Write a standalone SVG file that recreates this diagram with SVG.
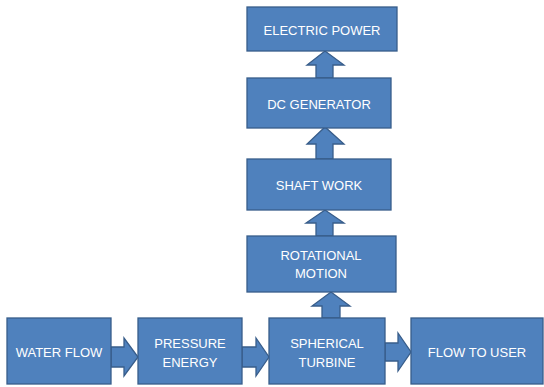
<svg xmlns="http://www.w3.org/2000/svg" width="544" height="387" viewBox="0 0 544 387">
<style>
.box{fill:#4F81BD;stroke:#385D8A;stroke-width:1.3}
.arr{fill:#4F81BD;stroke:#385D8A;stroke-width:1.3;stroke-linejoin:miter}
text{font-family:"Liberation Sans",Arial,sans-serif;font-size:13px;fill:#FFFFFF;text-anchor:middle}
</style>
<rect width="544" height="387" fill="#FFFFFF"/>
<g id="connectors">
<polygon class="arr" points="111,347 124,347 124,338 138,357 124,376 124,367 111,367"/>
<polygon class="arr" points="242,347 256,347 256,338 269,357 256,376 256,367 242,367"/>
<polygon class="arr" points="385,343 398,343 398,333 411,352 398,371 398,361 385,361"/>
<polygon class="arr" points="322,318 322,306 312,306 331,292 350,306 340,306 340,318"/>
<polygon class="arr" points="316,236 316,223 306,223 325,210 344,223 333,223 333,236"/>
<polygon class="arr" points="316,159 316,144 307,144 325,127 344,144 333,144 333,159"/>
<polygon class="arr" points="316,78 316,65 307,65 325,51 344,65 333,65 333,78"/>
</g>
<g id="water-flow">
<rect class="box" x="7" y="318" width="104" height="66"/>
<text x="59" y="357">WATER FLOW</text>
</g>
<g id="pressure-energy">
<rect class="box" x="138" y="318" width="104" height="66"/>
<text x="190" y="348">PRESSURE</text>
<text x="190" y="367">ENERGY</text>
</g>
<g id="spherical-turbine">
<rect class="box" x="269" y="318" width="116" height="66"/>
<text x="327" y="348">SPHERICAL</text>
<text x="327" y="367">TURBINE</text>
</g>
<g id="flow-to-user">
<rect class="box" x="411" y="318" width="132" height="66"/>
<text x="477" y="357">FLOW TO USER</text>
</g>
<g id="rotational-motion">
<rect class="box" x="247" y="236" width="149" height="56"/>
<text x="321" y="260">ROTATIONAL</text>
<text x="321" y="278">MOTION</text>
</g>
<g id="shaft-work">
<rect class="box" x="247" y="159" width="144" height="51"/>
<text x="319" y="190">SHAFT WORK</text>
</g>
<g id="dc-generator">
<rect class="box" x="247" y="78" width="144" height="50"/>
<text x="319" y="109">DC GENERATOR</text>
</g>
<g id="electric-power">
<rect class="box" x="247" y="7" width="150" height="44"/>
<text x="322" y="35">ELECTRIC POWER</text>
</g>
</svg>
